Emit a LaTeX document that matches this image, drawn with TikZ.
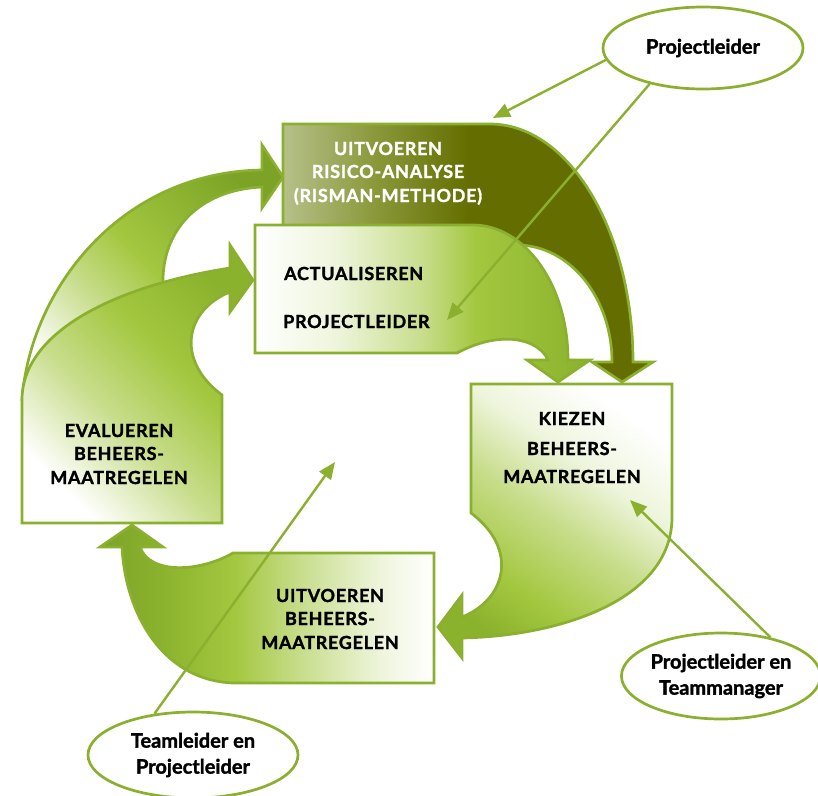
\documentclass[tikz,border=0pt]{standalone}
\usepackage{fontspec}
\setmainfont{Lato}[BoldFeatures={FakeBold=1.6}]
\usetikzlibrary{arrows.meta,shapes.geometric}
\definecolor{edge}{HTML}{8BAF2E}
\definecolor{olL}{HTML}{B6C08A}
\definecolor{olM}{HTML}{8C9A3C}
\definecolor{olD}{HTML}{646E00}
\definecolor{gA}{HTML}{A3C73F}
\definecolor{gB}{HTML}{8BB22D}
\definecolor{gC}{HTML}{7CA326}
\definecolor{gL1}{HTML}{EEF5DC}
\definecolor{gL2}{HTML}{C8DD8C}
\pgfdeclarehorizontalshading{olivesh}{100bp}{color(0bp)=(olL); color(25bp)=(olL); color(37bp)=(olM); color(50bp)=(olD); color(100bp)=(olD)}
\pgfdeclarehorizontalshading{actsh}{100bp}{color(0bp)=(white); color(25bp)=(white); color(37bp)=(gL1); color(50bp)=(gL2); color(58bp)=(gA); color(75bp)=(gB); color(100bp)=(gB)}
\pgfdeclarehorizontalshading{uitsh}{100bp}{color(0bp)=(gC); color(25bp)=(gC); color(34bp)=(gB); color(45bp)=(gA); color(55bp)=(gL2); color(67bp)=(gL1); color(75bp)=(white); color(100bp)=(white)}
\pgfdeclareverticalshading{evsh}{100bp}{color(0bp)=(white); color(25bp)=(white); color(42bp)=(gL2); color(58bp)=(gA); color(75bp)=(gB); color(100bp)=(gB)}
\pgfdeclareverticalshading{upsh}{100bp}{color(0bp)=(white); color(25bp)=(white); color(40bp)=(gL2); color(52bp)=(gA); color(75bp)=(gC); color(100bp)=(gC)}
\pgfdeclareverticalshading{kiesh}{100bp}{color(0bp)=(gB); color(25bp)=(gB); color(35bp)=(gA); color(50bp)=(gL2); color(62bp)=(gL1); color(75bp)=(white); color(100bp)=(white)}
\tikzset{
  shp/.style={draw=edge, line width=2.7pt, line join=miter},
  boxtxt/.style={font=\fontsize{18}{22}\selectfont\bfseries\addfontfeatures{LetterSpace=4}, anchor=base, inner sep=0pt, text=black},
  elltxt/.style={ellipse, draw=edge, line width=2.7pt, fill=white, inner sep=0pt, align=center, font=\fontsize{20}{26}\selectfont\bfseries},
  conn/.style={draw=edge, line width=2.4pt, -{Triangle[length=17pt,width=14pt]}}
}
\begin{document}
\begin{tikzpicture}[x=1pt,y=-1pt]
\useasboundingbox (0,0) rectangle (818,795);
% upper-left arrow
\shadedraw[shp, shading=upsh, shading angle=-45] (22,400) .. controls (30,290) and (120,172) .. (262,170) -- (262,145) -- (283,177) -- (262,208) -- (262,187) .. controls (197,190) and (162,232) .. (163,283) -- (150,330) -- (40,420) -- cycle;
% evalueren + lower arrow
\shadedraw[shp, shading=evsh, shading angle=-45] (22,523) -- (222,523) -- (222,395) .. controls (175,360) and (185,310) .. (230,292) -- (230,312) -- (253,280) -- (230,245) -- (230,268) .. controls (120,285) and (22,330) .. (22,400) -- cycle;
% risico-analyse (dark)
\shadedraw[shp, shading=olivesh] (283,124) -- (490,124) .. controls (569,124) and (633,231) .. (633,362) -- (653,362) -- (622,382) -- (592,362) -- (612,362) .. controls (612,297) and (569,245) .. (517,245) -- (283,245) -- cycle;
% actualiseren
\shadedraw[shp, shading=actsh] (255,225) -- (473,225) .. controls (525,225) and (568,285) .. (568,360) -- (590,360) -- (558,382) -- (527,360) -- (548,360) .. controls (538,338) and (500,330) .. (457,353) -- (255,353) -- cycle;
% kiezen
\shadedraw[shp, shading=kiesh, shading angle=-35] (471,384) -- (672,384) -- (672,517) .. controls (672,600) and (560,636) .. (462,638) -- (462,658) -- (438,627) -- (462,595) -- (462,617) .. controls (505,600) and (520,550) .. (471,513) -- cycle;
% uitvoeren beheersmaatregelen
\shadedraw[shp, shading=uitsh] (233,553) -- (434,553) -- (434,683) -- (233,683) .. controls (160,680) and (125,610) .. (122,547) -- (100,547) -- (132,525) -- (163,547) -- (140,547) .. controls (150,575) and (200,572) .. (233,553) -- cycle;

% texts
\node[boxtxt, text=white] (r1) at (388,155) {UITVOEREN};
\node[boxtxt, text=white] (r2) at (388,178) {RISICO-ANALYSE};
\node[boxtxt, text=white] (r3) at (388,202) {(RISMAN-METHODE)};
\node[boxtxt, anchor=base west] (a1t) at (284,280) {ACTUALISEREN};
\node[boxtxt, anchor=base west] (a2t) at (283,328) {PROJECTLEIDER};
\node[boxtxt] (e1) at (119,437) {EVALUEREN};
\node[boxtxt] (e2) at (119,460) {BEHEERS-};
\node[boxtxt] (e3) at (119,484) {MAATREGELEN};
\node[boxtxt] (k1) at (572,425) {KIEZEN};
\node[boxtxt] (k2) at (572,455) {BEHEERS-};
\node[boxtxt] (k3) at (572,483) {MAATREGELEN};
\node[boxtxt] (u1) at (330,602) {UITVOEREN};
\node[boxtxt] (u2) at (330,625) {BEHEERS-};
\node[boxtxt] (u3) at (330,649) {MAATREGELEN};

% ellipses
\node[elltxt, minimum width=200pt, minimum height=82pt] (pl) at (703,48) {Projectleider};
\node[elltxt, minimum width=196pt, minimum height=86pt] (ptm) at (721,676) {Projectleider en\\Teammanager};
\node[elltxt, minimum width=210pt, minimum height=86pt] (tlp) at (193,755) {Teamleider en\\Projectleider};

% connector targets
\coordinate (c1) at (493,118);
\coordinate (c2) at (447,320);
\coordinate (c3) at (630,500);
\coordinate (c4) at (335,462);
\draw[conn] (pl.187) -- (c1);
\draw[conn] (pl.214) -- (c2);
\draw[conn] (ptm.38) -- (c3);
\draw[conn] (tlp.133) -- (c4);
\end{tikzpicture}
\end{document}
